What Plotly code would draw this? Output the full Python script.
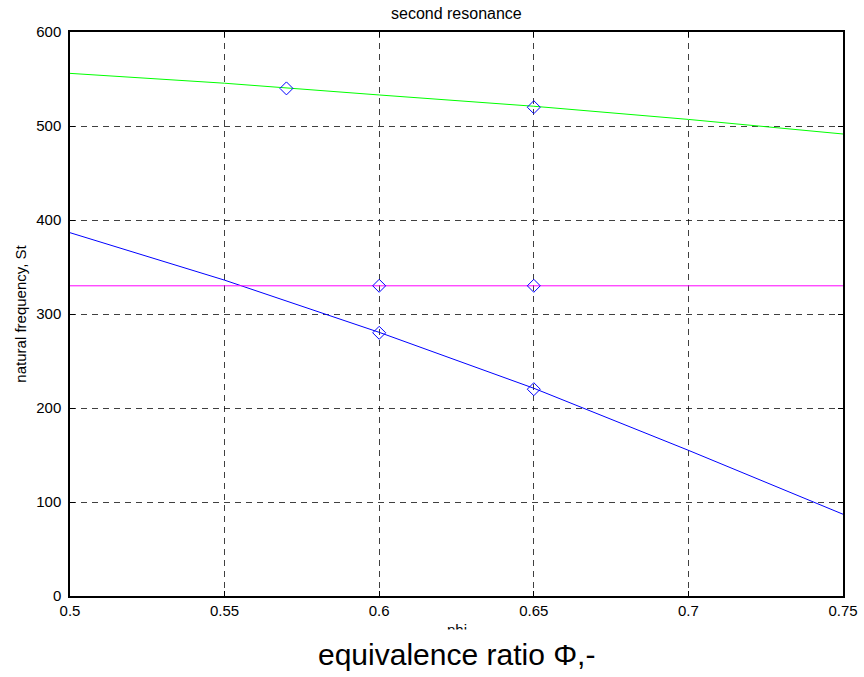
import plotly.graph_objects as go

# equivalence ratio samples along the model curves
phi_curve = [0.5, 0.55, 0.6, 0.65, 0.7, 0.75]
low_mode = [386.5, 336, 280.5, 221, 155, 87]
high_mode = [556, 545.5, 533, 521, 507, 491.5]

# constant reference frequency
ref_phi = [0.5, 0.75]
ref_freq = [330, 330]

# measured resonance points
meas_phi = [0.57, 0.65, 0.6, 0.65, 0.6, 0.65]
meas_freq = [540, 520, 330, 330, 280, 220]

x_ticks = [0.5, 0.55, 0.6, 0.65, 0.7, 0.75]
x_ticktext = ["0.5", "0.55", "0.6", "0.65", "0.7", "0.75"]
y_ticks = [0, 100, 200, 300, 400, 500, 600]

FONT = "Liberation Sans, Arial, Helvetica, sans-serif"

fig = go.Figure()
fig.add_trace(go.Scatter(x=phi_curve, y=low_mode, mode="lines",
                         line=dict(color="#0000ff", width=1), showlegend=False))
fig.add_trace(go.Scatter(x=phi_curve, y=high_mode, mode="lines",
                         line=dict(color="#00ff00", width=1), showlegend=False))
fig.add_trace(go.Scatter(x=ref_phi, y=ref_freq, mode="lines",
                         line=dict(color="#ff00ff", width=1), showlegend=False))
fig.add_trace(go.Scatter(x=meas_phi, y=meas_freq, mode="markers",
                         marker=dict(symbol="diamond-open", size=10,
                                     color="#0000ff", line=dict(width=1, color="#0000ff")),
                         showlegend=False))

axis_common = dict(
    showline=True, linecolor="black", linewidth=1.5, mirror="ticks",
    ticks="inside", ticklen=5, tickcolor="black", tickwidth=1,
    showgrid=True, gridcolor="rgba(0,0,0,0.75)", gridwidth=1, griddash="6px,5px",
    zeroline=False, automargin=False,
    tickfont=dict(family=FONT, size=15, color="black"),
)

fig.update_xaxes(range=[0.5, 0.75], tickvals=x_ticks, ticktext=x_ticktext,
                 ticklabelstandoff=0, **axis_common)
fig.update_yaxes(range=[0, 600], tickvals=y_ticks, ticklabelstandoff=4,
                 title=dict(text="natural frequency, St", font=dict(family=FONT, size=15, color="black"),
                            standoff=6),
                 **axis_common)

plot_h = 677 - 32 - 81
fig.add_annotation(text="second resonance", xref="paper", yref="paper", x=0.5,
                   y=1 + 19 / plot_h, yanchor="middle", showarrow=False,
                   font=dict(family=FONT, size=16, color="black"))
fig.add_annotation(text="phi", xref="paper", yref="paper", x=0.5,
                   y=-33 / plot_h, yanchor="middle", showarrow=False,
                   font=dict(family=FONT, size=15, color="black"))
fig.add_annotation(text="equivalence ratio Φ,-", xref="paper", yref="paper", x=0.5,
                   y=-58 / plot_h, yanchor="middle", showarrow=False,
                   bgcolor="white", borderpad=8,
                   font=dict(family=FONT, size=30, color="black"))

fig.update_layout(
    width=864, height=677,
    margin=dict(l=70, r=21, t=32, b=81),
    paper_bgcolor="white", plot_bgcolor="white",
    font=dict(family=FONT, color="black"),
)

fig.write_html("out.html")
